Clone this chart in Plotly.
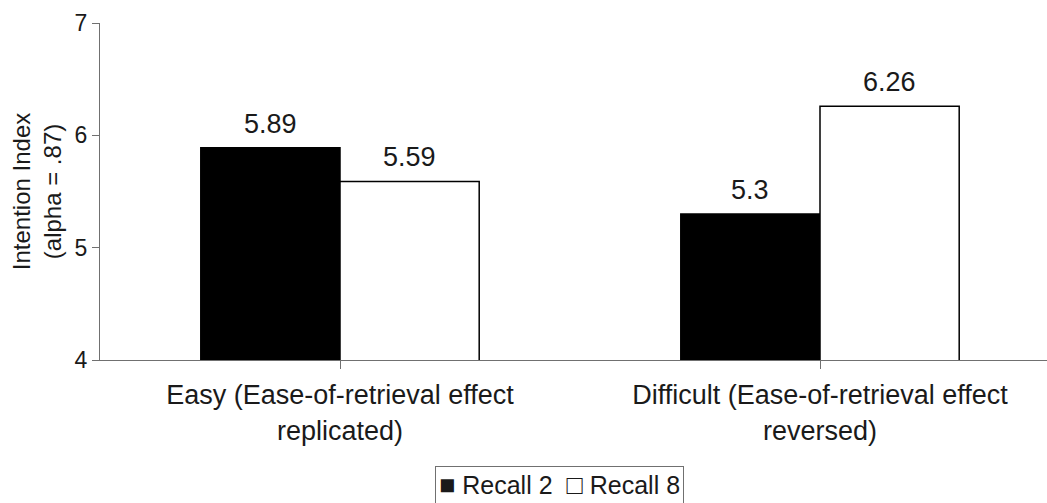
import plotly.graph_objects as go

# Data
categories = ["Easy (Ease-of-retrieval effect<br>replicated)",
              "Difficult (Ease-of-retrieval effect<br>reversed)"]
recall_2 = [5.89, 5.30]
recall_8 = [5.59, 6.26]
series_names = ["Recall 2", "Recall 8"]
y_ticks = [4, 5, 6, 7]

FONT = "Liberation Sans, Arial, Helvetica, sans-serif"
TEXT = "#1a1a1a"
AXIS_COLOR = "#707070"
BARGAP = 0.42
W, H = 1047, 503
L, R, T, B = 100, 0, 23, 143

fig = go.Figure()
fig.add_trace(go.Bar(
    name=series_names[0], x=[0, 1], y=recall_2,
    marker=dict(color="black", line=dict(color="black", width=1.5)),
))
fig.add_trace(go.Bar(
    name=series_names[1], x=[0, 1], y=recall_8,
    marker=dict(color="white", line=dict(color="black", width=1.5)),
))

# value labels above each bar
half = (1 - BARGAP) / 2
for k, vals in enumerate([recall_2, recall_8]):
    offset = -half / 2 if k == 0 else half / 2
    for i, v in enumerate(vals):
        fig.add_annotation(
            x=i + offset, y=v, text=f"{v:g}", showarrow=False,
            yanchor="bottom", yshift=7,
            font=dict(family=FONT, size=27, color=TEXT),
        )

# compact boxed key below the axis: filled / open squares before each name
sq = '<span style="font-size:27px">{}</span>'
nb = "\u00a0"
key_text = (f"{sq.format(chr(0x25A0))}{nb}{series_names[0]}{nb*2}"
            f"{sq.format(chr(0x25A1))}{nb}{series_names[1]}")
fig.add_annotation(
    xref="paper", yref="paper",
    x=(559 - L) / (W - L - R), y=-(466 - (H - B)) / (H - T - B),
    xanchor="center", yanchor="top",
    text=key_text, showarrow=False,
    font=dict(family=FONT, size=25, color=TEXT),
    bordercolor=AXIS_COLOR, borderwidth=1, borderpad=3, bgcolor="white",
)

# visible span of the plot area in category units
plot_px = W - L - R
x_end = -0.5 + plot_px / 480.0

fig.update_layout(
    width=W, height=H,
    margin=dict(l=L, r=R, t=T, b=B),
    paper_bgcolor="white", plot_bgcolor="white",
    barmode="group", bargap=BARGAP, bargroupgap=0,
    font=dict(family=FONT, size=20, color=TEXT),
    showlegend=False,
    xaxis=dict(
        range=[-0.5, x_end],
        tickmode="array", tickvals=[0, 1], ticktext=categories,
        tickson="boundaries", ticks="outside", ticklen=8,
        tickcolor=AXIS_COLOR, tickwidth=1,
        showline=True, linecolor=AXIS_COLOR, linewidth=1,
        showgrid=False, zeroline=False,
        ticklabelstandoff=3,
        tickfont=dict(family=FONT, size=27, color=TEXT),
    ),
    yaxis=dict(
        range=[4, 7], tickvals=y_ticks,
        ticks="outside", ticklen=7, tickcolor=AXIS_COLOR, tickwidth=1,
        showline=True, linecolor=AXIS_COLOR, linewidth=1,
        showgrid=False, zeroline=False,
        tickfont=dict(family=FONT, size=23, color=TEXT),
        title=dict(text="Intention Index<br>(alpha = .87)",
                   font=dict(family=FONT, size=24, color=TEXT),
                   standoff=6),
    ),
)

fig.write_html("out.html")
